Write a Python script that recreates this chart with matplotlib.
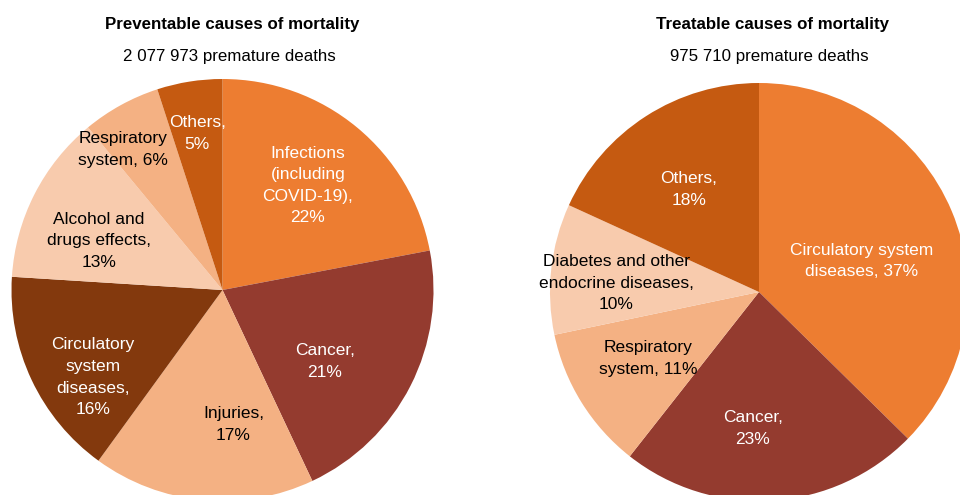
import matplotlib
matplotlib.use("Agg")
import matplotlib.pyplot as plt

plt.rcParams['font.family'] = ['Liberation Sans', 'DejaVu Sans']

# preventable causes
prev_labels = ["Infections\n(including\nCOVID-19),\n22%", "Cancer,\n21%", "Injuries,\n17%",
               "Circulatory\nsystem\ndiseases,\n16%", "Alcohol and\ndrugs effects,\n13%",
               "Respiratory\nsystem, 6%", "Others,\n5%"]
prev_values = [22, 21, 17, 16, 13, 6, 5]
prev_colors = ["#ED7D31", "#943B2F", "#F4B183", "#83390D", "#F8CBAD", "#F4B183", "#C55A11"]
prev_text = ["white", "white", "black", "white", "black", "black", "white"]
prev_pos = [(0.405, 0.495), (0.486, -0.338), (0.052, -0.638), (-0.614, -0.414),
            (-0.586, 0.233), (-0.471, 0.667), (-0.119, 0.743)]

# treatable causes
treat_labels = ["Circulatory system\ndiseases, 37%", "Cancer,\n23%", "Respiratory\nsystem, 11%",
                "Diabetes and other\nendocrine diseases,\n10%", "Others,\n18%"]
treat_values = [37, 23, 11, 10, 18]
treat_colors = ["#ED7D31", "#943B2F", "#F4B183", "#F8CBAD", "#C55A11"]
treat_text = ["white", "white", "black", "black", "white"]
treat_pos = [(0.490, 0.149), (-0.029, -0.654), (-0.529, -0.317), (-0.683, 0.043), (-0.337, 0.490)]

W, H = 960, 495
fig = plt.figure(figsize=(9.6, 4.95), dpi=100)


def draw(cx, cy, r, values, colors, labels, tcolors, pos):
    ax = fig.add_axes([(cx - r) / W, (H - cy - r) / H, 2 * r / W, 2 * r / H])
    ax.pie(values, colors=colors, startangle=90, counterclock=False,
           wedgeprops=dict(linewidth=0))
    for lab, tc, (x, y) in zip(labels, tcolors, pos):
        ax.text(x, y, lab, ha="center", va="center", color=tc, fontsize=12.5, linespacing=1.55)
    ax.set_xlim(-1, 1)
    ax.set_ylim(-1, 1)
    ax.set_aspect("equal", adjustable="box")
    ax.axis("off")
    return ax


draw(222.5, 290, 211, prev_values, prev_colors, prev_labels, prev_text, prev_pos)
draw(759, 292, 209, treat_values, treat_colors, treat_labels, treat_text, treat_pos)

fig.text(232 / W, 1 - 25 / H, "Preventable causes of mortality", ha="center", va="center",
         fontsize=12.2, fontweight="bold")
fig.text(229 / W, 1 - 57 / H, "2 077 973 premature deaths", ha="center", va="center", fontsize=12.2)
fig.text(772 / W, 1 - 25 / H, "Treatable causes of mortality", ha="center", va="center",
         fontsize=12.2, fontweight="bold")
fig.text(769 / W, 1 - 57 / H, "975 710 premature deaths", ha="center", va="center", fontsize=12.2)

fig.savefig("out.png", dpi=100)
